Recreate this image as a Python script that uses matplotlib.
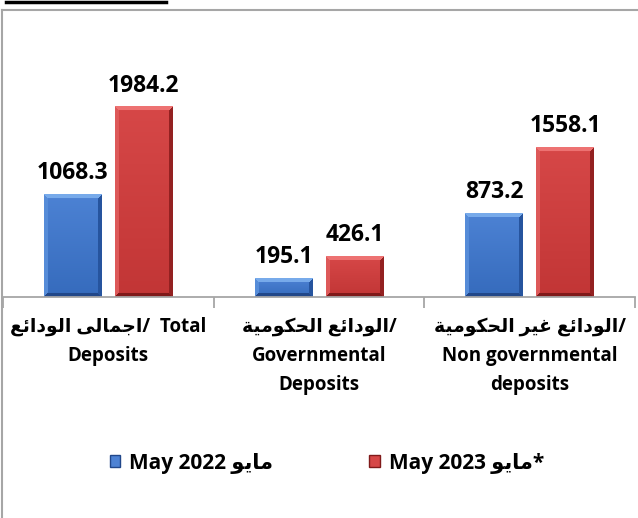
import numpy as np
import matplotlib
matplotlib.use('Agg')
import matplotlib.pyplot as plt
from matplotlib.lines import Line2D
from matplotlib.patches import Patch

# بيانات الودائع (مليار جنيه)
categories_ar = ["اجمالى الودائع", "الودائع الحكومية", "الودائع غير الحكومية"]
categories_en = [["/  Total", "Deposits"],
                 ["/", "Governmental", "Deposits"],
                 ["/", "Non governmental", "deposits"]]
may_2022 = [1068.3, 195.1, 873.2]
may_2023 = [1984.2, 426.1, 1558.1]
series_en = ["May 2022 ", "May 2023 "]
series_ar = ["مايو", "مايو"]
series_suffix = ["", "*"]

# أشكال الحروف: معزول، نهائي، ابتدائي، وسطي
FORMS = {
    'ا': ('\ufe8d', '\ufe8e', None, None),
    'د': ('\ufea9', '\ufeaa', None, None),
    'ر': ('\ufead', '\ufeae', None, None),
    'و': ('\ufeed', '\ufeee', None, None),
    'ة': ('\ufe93', '\ufe94', None, None),
    'ى': ('\ufeef', '\ufef0', None, None),
    'ئ': ('\ufe89', '\ufe8a', '\ufe8b', '\ufe8c'),
    'ج': ('\ufe9d', '\ufe9e', '\ufe9f', '\ufea0'),
    'ح': ('\ufea1', '\ufea2', '\ufea3', '\ufea4'),
    'ع': ('\ufec9', '\ufeca', '\ufecb', '\ufecc'),
    'غ': ('\ufecd', '\ufece', '\ufecf', '\ufed0'),
    'ك': ('\ufed9', '\ufeda', '\ufedb', '\ufedc'),
    'ل': ('\ufedd', '\ufede', '\ufedf', '\ufee0'),
    'م': ('\ufee1', '\ufee2', '\ufee3', '\ufee4'),
    'ي': ('\ufef1', '\ufef2', '\ufef3', '\ufef4'),
}


def shape(text):
    """وصل الحروف العربية وعكس ترتيبها للعرض من اليسار لليمين."""
    out = []
    for i, ch in enumerate(text):
        if ch not in FORMS:
            out.append(ch)
            continue
        iso, fin, ini, med = FORMS[ch]
        prev = text[i - 1] if i > 0 else ''
        nxt = text[i + 1] if i + 1 < len(text) else ''
        jp = prev in FORMS and FORMS[prev][2] is not None
        jn = ini is not None and nxt in FORMS
        if jp and jn:
            out.append(med)
        elif jp:
            out.append(fin)
        elif jn:
            out.append(ini)
        else:
            out.append(iso)
    return ''.join(reversed(out))


FONT = ['Open Sans', 'DejaVu Sans']
plt.rcParams['font.family'] = FONT

fig = plt.figure(figsize=(6.38, 5.18), dpi=100)
W, H = 638, 518
ax = fig.add_axes([3 / W, 221 / H, 632 / W, 239.5 / H])

x = np.arange(len(categories_ar))
bw, off = 0.275, 0.1685
XLIM, YLIM = (-0.5, 2.5), (0, 2500)
ax.set_xlim(XLIM)
ax.set_ylim(YLIM)

blue = dict(face_top=(0.30, 0.51, 0.83), face_bot=(0.21, 0.42, 0.74),
            top=(0.47, 0.67, 0.92), left=(0.34, 0.55, 0.85),
            right=(0.15, 0.33, 0.62), bot=(0.13, 0.28, 0.54))
red = dict(face_top=(0.84, 0.28, 0.28), face_bot=(0.76, 0.21, 0.21),
           top=(0.93, 0.45, 0.45), left=(0.87, 0.35, 0.35),
           right=(0.58, 0.13, 0.13), bot=(0.50, 0.10, 0.10))


def bevel_fill(bar, pal):
    x0, y0 = bar.get_x(), bar.get_y()
    w, h = bar.get_width(), bar.get_height()
    p0 = ax.transData.transform((x0, y0))
    p1 = ax.transData.transform((x0 + w, y0 + h))
    wp = max(int(round(p1[0] - p0[0])), 2)
    hp = max(int(round(p1[1] - p0[1])), 2)
    yy, xx = np.mgrid[0:hp, 0:wp]
    t = (yy / max(hp - 1, 1))[..., None]
    img = (1 - t) * np.array(pal['face_top']) + t * np.array(pal['face_bot'])
    d = np.stack([yy, wp - 1 - xx, hp - 1 - yy, xx])  # top, right, bottom, left
    b = 4
    edge = d.argmin(axis=0)
    near = d.min(axis=0) < b
    for k, key in enumerate(['top', 'right', 'bot', 'left']):
        m = near & (edge == k)
        img[m] = pal[key]
    ax.imshow(img, extent=(x0, x0 + w, y0, y0 + h), origin='upper',
              aspect='auto', interpolation='bilinear', zorder=2)


bars1 = ax.bar(x - off, may_2022, bw, color=blue['face_top'], zorder=1)
bars2 = ax.bar(x + off, may_2023, bw, color=red['face_top'], zorder=1)
for b1, b2 in zip(bars1, bars2):
    bevel_fill(b1, blue)
    bevel_fill(b2, red)
ax.set_xlim(XLIM)
ax.set_ylim(YLIM)

for bars, vals in ((bars1, may_2022), (bars2, may_2023)):
    for bar, v in zip(bars, vals):
        ax.annotate(f"{v:.1f}", (bar.get_x() + bar.get_width() / 2, v),
                    xytext=(0, 11), textcoords='offset points',
                    ha='center', va='baseline', fontsize=16.5,
                    fontweight='bold', family=FONT)

# تسميات الفئات
labels = []
for ar, en in zip(categories_ar, categories_en):
    lines = [shape(ar) + en[0]] + en[1:]
    labels.append('\n'.join(lines))
ax.set_xticks(x)
ax.set_xticklabels(labels, fontsize=13.5, fontweight='bold', linespacing=1.62)
ax.set_xticks(np.arange(-0.5, 3, 1), minor=True)
ax.tick_params(axis='x', which='major', length=0, pad=14)
ax.tick_params(axis='x', which='minor', length=8, width=1.3, color='#a6a6a6')
ax.set_yticks([])
for s in ['top', 'right', 'left']:
    ax.spines[s].set_visible(False)
ax.spines['bottom'].set_color('#a6a6a6')
ax.spines['bottom'].set_linewidth(1.3)

handles = [Patch(facecolor=blue['face_top'], edgecolor=blue['bot']),
           Patch(facecolor=red['face_top'], edgecolor=red['bot'])]
leg_labels = [e + shape(a) + s for e, a, s in zip(series_en, series_ar, series_suffix)]
fig.legend(handles, leg_labels, loc='center', bbox_to_anchor=(327 / W, 1 - 463 / H),
           ncol=2, frameon=False, handlelength=0.5, handleheight=0.5,
           handletextpad=0.45, columnspacing=4.6,
           prop={'family': FONT, 'weight': 'bold', 'size': 15})

# إطار المخطط والخط العلوي
fig.add_artist(Line2D([1.5 / W, 1.5 / W], [0, 1 - 10 / H], color='#a6a6a6', lw=1.5))
fig.add_artist(Line2D([1.5 / W, 1], [1 - 10 / H, 1 - 10 / H], color='#a6a6a6', lw=1.5))
fig.add_artist(Line2D([6 / W, 166 / W], [1 - 1.5 / H, 1 - 1.5 / H], color='black', lw=2.5))

fig.savefig('out.png', dpi=100)
